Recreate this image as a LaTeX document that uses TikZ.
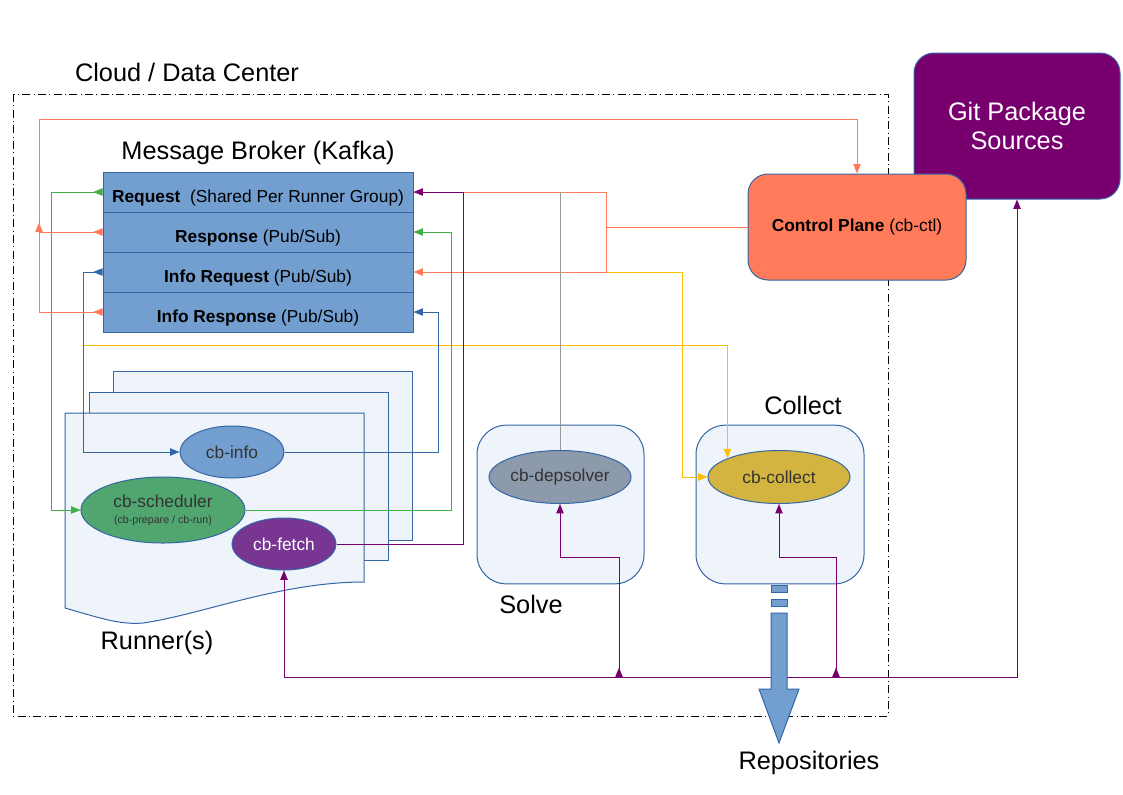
\documentclass[tikz,border=0pt]{standalone}
\usepackage{fontspec}
\setmainfont{Liberation Sans}
\usetikzlibrary{arrows.meta,shapes.geometric}

\definecolor{brokerblue}{HTML}{729FCF}
\definecolor{edgeblue}{HTML}{3465A4}
\definecolor{ctlcoral}{HTML}{FF7B5A}
\definecolor{gitpurple}{HTML}{77006E}
\definecolor{fetchpurple}{HTML}{783592}
\definecolor{schedgreen}{HTML}{50A66E}
\definecolor{linegreen}{HTML}{3FAF46}
\definecolor{lineyellow}{HTML}{FFBF00}
\definecolor{collectgold}{HTML}{D4B440}
\definecolor{solvergray}{HTML}{8C9AAB}
\definecolor{paleblue}{HTML}{EEF4FA}
\definecolor{textgray}{HTML}{333333}

\begin{document}
\begin{tikzpicture}[x=0.75pt,y=-0.75pt,line width=0.75pt,
  every node/.style={font=\fontsize{13}{15}\selectfont},
  topic/.style={draw=edgeblue,fill=brokerblue,minimum width=232.5pt,minimum height=30pt,inner sep=0pt,
    text height=15pt,text depth=0pt},
  svc/.style={ellipse,draw=edgeblue,inner sep=0pt,text=textgray},
  pod/.style={draw=edgeblue,fill=paleblue,rounded corners=22pt,minimum width=126pt,minimum height=119pt},
  big/.style={font=\fontsize{19}{22}\selectfont},
  tipend/.style={-{Triangle[length=7pt,width=5.5pt]}},
  tipout/.style={{Triangle[reversed,length=7pt,width=5.5pt]}-},
  tipboth/.style={{Triangle[length=7pt,width=5.5pt]}-{Triangle[length=7pt,width=5.5pt]}},
  tipoutend/.style={{Triangle[reversed,length=7pt,width=5.5pt]}-{Triangle[length=7pt,width=5.5pt]}}]
  \useasboundingbox (0,0) rectangle (1123,794);

  % data center frame
  \draw[dash pattern=on 6pt off 2.5pt on 0.75pt off 2.5pt] (13,94) rectangle (888,716);
  \node[big] (cloud) at (187,72) {Cloud / Data Center};

  \node[draw=edgeblue,fill=gitpurple,rounded corners=15pt,minimum width=154.5pt,minimum height=109.5pt,
    big,text=white,align=center] (git) at (1017,126) {Git Package\\Sources};
  \node[draw=edgeblue,fill=ctlcoral,rounded corners=15pt,minimum width=163.5pt,minimum height=79.5pt]
    (cp) at (857,227) {\textbf{Control Plane} (cb-ctl)};

  % broker
  \node[big] (brokertitle) at (258,153) {Message Broker (Kafka)};
  \node[topic] (req) at (258,192) {\textbf{Request}\ \ (Shared Per Runner Group)};
  \node[topic] (resp) at (258,232) {\textbf{Response} (Pub/Sub)};
  \node[topic] (ireq) at (258,272) {\textbf{Info Request} (Pub/Sub)};
  \node[topic] (iresp) at (258,312) {\textbf{Info Response} (Pub/Sub)};

  % runners
  \filldraw[draw=edgeblue,fill=paleblue] (113,371) rectangle (412,540);
  \filldraw[draw=edgeblue,fill=paleblue] (89,392) rectangle (388,560);
  \filldraw[draw=edgeblue,fill=paleblue] (65,413) -- (364,413) -- (364,582)
    .. controls (280,582) and (200,615) .. (143,623)
    .. controls (120,625) and (100,618) .. (65,608) -- cycle;
  \node[big] (runners) at (157,643) {Runner(s)};

  \node[pod,minimum width=125.25pt] (solve) at (560.5,504.5) {};
  \node[pod] (collect) at (780,504.5) {};
  \node[big] (solvelabel) at (531,604) {Solve};
  \node[big] (collectlabel) at (803,405) {Collect};

  \node[svc,fill=brokerblue,minimum width=78pt,minimum height=39pt] (cbinfo) at (232,452) {cb-info};
  \node[svc,fill=schedgreen,minimum width=123pt,minimum height=49.5pt,align=center] (cbsched) at (163,510)
    {cb-scheduler\\[-3pt]{\fontsize{8}{9}\selectfont(cb-prepare / cb-run)}};
  \node[svc,fill=fetchpurple,text=white,minimum width=78pt,minimum height=39pt] (cbfetch) at (284,544) {cb-fetch};
  \node[svc,fill=solvergray,minimum width=106.5pt,minimum height=39.75pt] (cbdep) at (560,477) {cb-depsolver};
  \node[svc,fill=collectgold,minimum width=106.5pt,minimum height=39.75pt] (cbcollect) at (779,477) {cb-collect};

  % bends
  \coordinate (cpA) at (606,227);
  \coordinate (cpB) at (606,272);
  \coordinate (yA) at (682,272);
  \coordinate (yB) at (83,345);
  \coordinate (pA) at (463,544);
  \coordinate (gA) at (51,192);
  \coordinate (gB) at (451,510);
  \coordinate (bA) at (83,272);
  \coordinate (bB) at (438,452);
  \coordinate (lA) at (39,232);
  \coordinate (lB) at (39,312);
  \coordinate (lC) at (39,119);
  \coordinate (busR) at (1017,677);
  \coordinate (sA) at (619,677);
  \coordinate (sB) at (619,557);
  \coordinate (cA) at (836,677);
  \coordinate (cB) at (836,557);

  \draw[lineyellow,tipend] (cpB) -- (yA) |- (cbcollect.west);
  \draw[lineyellow,tipend] (yB) -| (cbcollect.160);
  \draw[ctlcoral] (cp.west) -- (cpA);
  \draw[ctlcoral] (cpA) |- (req.east);
  \draw[ctlcoral,tipend] (cpA) |- (ireq.east);
  \draw[black!40] (cbdep.north) -- (cbdep.north |- req.east);
  \draw[gitpurple,tipend] (cbfetch.east) -- (pA) |- (req.east);
  \draw[linegreen,tipoutend] (req.west) -- (gA) |- (cbsched.west);
  \draw[linegreen,tipend] (cbsched.east) -- (gB) |- (resp.east);
  \draw[edgeblue,tipoutend] (ireq.west) -- (bA) |- (cbinfo.west);
  \draw[edgeblue,tipend] (cbinfo.east) -- (bB) |- (iresp.east);
  \draw[ctlcoral,tipout] (resp.west) -- (lA);
  \draw[ctlcoral,tipout] (iresp.west) -- (lB) -- (lA);
  \draw[ctlcoral,tipoutend] (lA) -- (lC) -| (cp.north);
  \draw[gitpurple,tipboth] (git.south) -- (busR) -| (cbfetch.south);
  \draw[gitpurple,tipoutend] (sA) -- (sB) -| (cbdep.south);
  \draw[gitpurple,tipoutend] (cA) -- (cB) -| (cbcollect.south);

  % repositories
  \filldraw[draw=edgeblue,fill=brokerblue] (771,585) rectangle (787,592);
  \filldraw[draw=edgeblue,fill=brokerblue] (771,599) rectangle (787,606);
  \filldraw[draw=edgeblue,fill=brokerblue] (771,613) -- (787,613) -- (787,689) -- (799,689)
    -- (779,743) -- (759,689) -- (771,689) -- cycle;
  \node[big] (repos) at (809,763) {Repositories};
\end{tikzpicture}
\end{document}
